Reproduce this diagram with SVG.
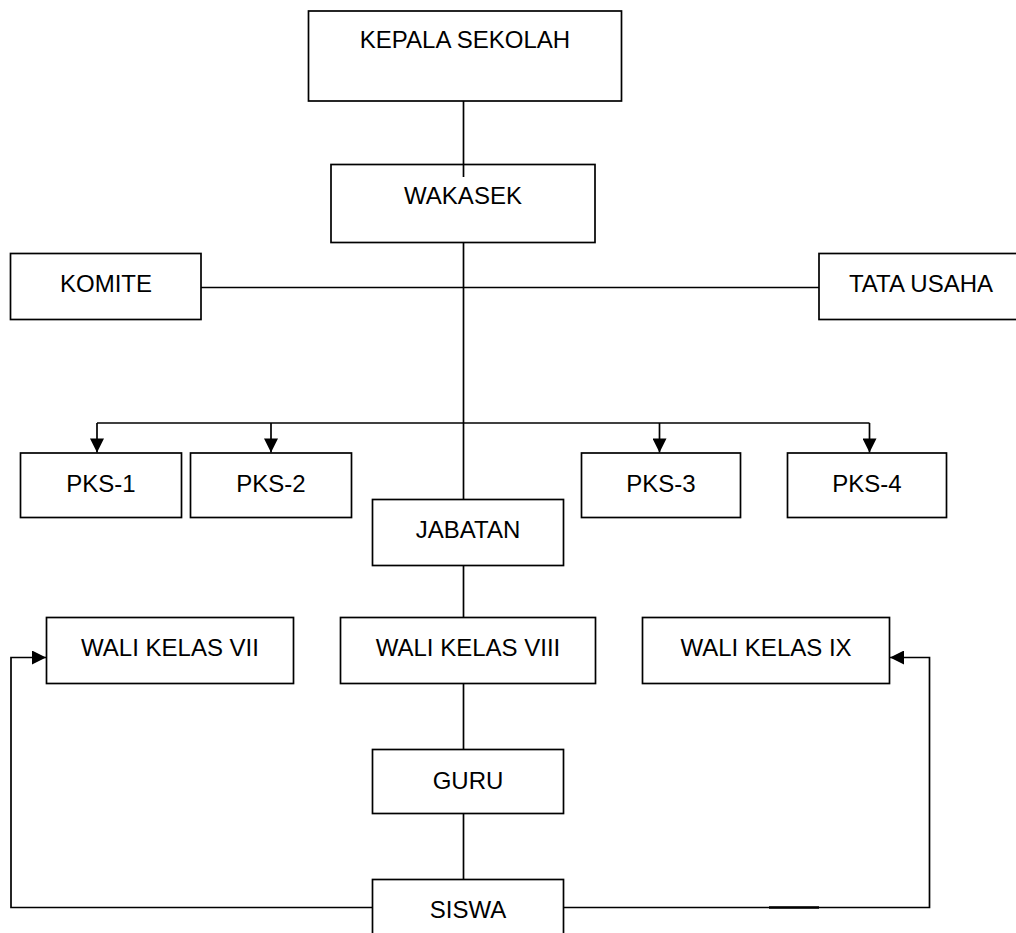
<svg xmlns="http://www.w3.org/2000/svg" width="1016" height="933" viewBox="0 0 1016 933">
<style>
.box{fill:#fff;stroke:#000;stroke-width:1.7}
.lbl{font-family:"Liberation Sans",Arial,sans-serif;font-size:24px;fill:#000;text-anchor:middle}
.ln{fill:none;stroke:#000;stroke-width:1.7}
</style>
<defs>
<marker id="arr" viewBox="0 0 14 14" refX="14" refY="7" markerWidth="15" markerHeight="14" markerUnits="userSpaceOnUse" orient="auto">
<path d="M0,0 L14,7 L0,14 Z" fill="#000"/>
</marker>
</defs>
<g id="connectors">
<line class="ln" x1="463.5" y1="101" x2="463.5" y2="177"/>
<line class="ln" x1="463.5" y1="243" x2="463.5" y2="499"/>
<line class="ln" x1="201" y1="287.5" x2="819" y2="287.5"/>
<line class="ln" x1="97" y1="423" x2="869.5" y2="423"/>
<line class="ln" x1="97" y1="423" x2="97" y2="452.5" marker-end="url(#arr)"/>
<line class="ln" x1="271" y1="423" x2="271" y2="452.5" marker-end="url(#arr)"/>
<line class="ln" x1="659.5" y1="423" x2="659.5" y2="452.5" marker-end="url(#arr)"/>
<line class="ln" x1="869.5" y1="423" x2="869.5" y2="452.5" marker-end="url(#arr)"/>
<line class="ln" x1="463.5" y1="566" x2="463.5" y2="617"/>
<line class="ln" x1="463.5" y1="683" x2="463.5" y2="749"/>
<line class="ln" x1="463.5" y1="813" x2="463.5" y2="879"/>
<polyline class="ln" points="372.5,907.5 11,907.5 11,657.5 46,657.5" marker-end="url(#arr)"/>
<polyline class="ln" points="563.5,907.5 929.5,907.5 929.5,657.5 890,657.5" marker-end="url(#arr)"/>
<line x1="769" y1="907.5" x2="819" y2="907.5" stroke="#000" stroke-width="2.4"/>
</g>
<g id="kepala"><rect class="box" x="308.5" y="11" width="313" height="90"/><text class="lbl" x="465" y="48">KEPALA SEKOLAH</text></g>
<g id="wakasek"><rect class="box" x="331" y="164.5" width="264" height="78" style="fill:none"/><text class="lbl" x="463" y="204">WAKASEK</text></g>
<g id="komite"><rect class="box" x="10.5" y="253.5" width="190.5" height="66"/><text class="lbl" x="106" y="292">KOMITE</text></g>
<g id="tatausaha"><rect class="box" x="819" y="253.5" width="200" height="66"/><text class="lbl" x="921" y="292">TATA USAHA</text></g>
<g id="pks1"><rect class="box" x="20.5" y="453" width="161" height="64.5"/><text class="lbl" x="101" y="491.5">PKS-1</text></g>
<g id="pks2"><rect class="box" x="190.5" y="453" width="161" height="64.5"/><text class="lbl" x="271" y="491.5">PKS-2</text></g>
<g id="pks3"><rect class="box" x="581.5" y="453" width="159" height="64.5"/><text class="lbl" x="661" y="491.5">PKS-3</text></g>
<g id="pks4"><rect class="box" x="787.5" y="453" width="159" height="64.5"/><text class="lbl" x="867" y="491.5">PKS-4</text></g>
<g id="jabatan"><rect class="box" x="372.5" y="499.5" width="191" height="66"/><text class="lbl" x="468" y="538">JABATAN</text></g>
<g id="wali7"><rect class="box" x="46.5" y="617.5" width="247" height="66"/><text class="lbl" x="170" y="656">WALI KELAS VII</text></g>
<g id="wali8"><rect class="box" x="340.5" y="617.5" width="255" height="66"/><text class="lbl" x="468" y="656">WALI KELAS VIII</text></g>
<g id="wali9"><rect class="box" x="642.5" y="617.5" width="247" height="66"/><text class="lbl" x="766" y="656">WALI KELAS IX</text></g>
<g id="guru"><rect class="box" x="372.5" y="749.5" width="191" height="64"/><text class="lbl" x="468" y="788.5">GURU</text></g>
<g id="siswa"><rect class="box" x="372.5" y="879.5" width="191" height="70"/><text class="lbl" x="468" y="917.5">SISWA</text></g>
</svg>
